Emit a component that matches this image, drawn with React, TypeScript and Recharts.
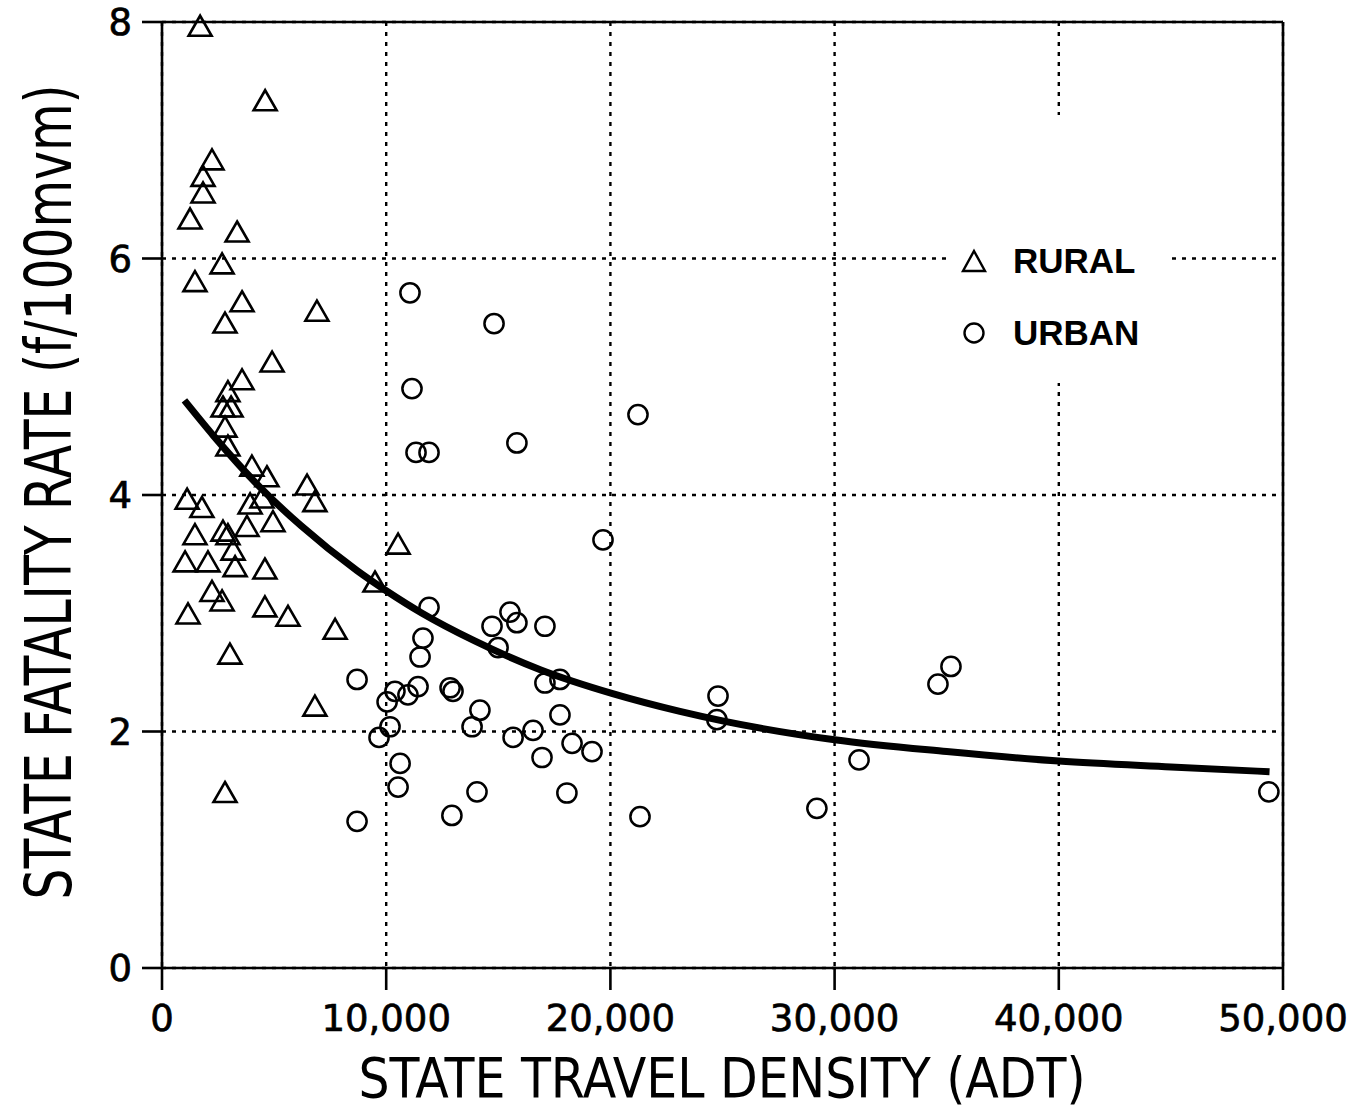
import React from 'react';
import {
  ComposedChart,
  XAxis,
  YAxis,
  CartesianGrid,
  Scatter,
  Line,
  ReferenceLine,
  Legend,
} from 'recharts';

// ---- data ----
const xTicks = [0, 10000, 20000, 30000, 40000, 50000];
const yTicks = [0, 2, 4, 6, 8];

const seriesNames = ['RURAL', 'URBAN'];
const xTitle = 'STATE TRAVEL DENSITY (ADT)';
const yTitle = 'STATE FATALITY RATE (f/100mvm)';

const ruralX = [
  1700, 4600, 2230, 1830, 1830, 1250, 3350, 2680, 1470, 3570, 6910, 2810, 4910, 3570, 2940, 2720,
  3080, 2810, 2940, 4010, 4680, 6470, 6820, 1120, 1780, 3930, 4460, 4950, 1470, 2720, 2940, 3790,
  3170, 1030, 2050, 3260, 4590, 2230, 2680, 1160, 4590, 5620, 7720, 3030, 6820, 2810, 9500, 10530,
];
const ruralY = [
  7.96, 7.33, 6.83, 6.69, 6.55, 6.33, 6.22, 5.95, 5.8, 5.63, 5.55, 5.45, 5.12, 4.97, 4.87, 4.74,
  4.74, 4.57, 4.41, 4.24, 4.15, 4.08, 3.94, 3.96, 3.89, 3.92, 3.97, 3.77, 3.66, 3.69, 3.66, 3.73,
  3.53, 3.43, 3.43, 3.39, 3.37, 3.18, 3.1, 2.99, 3.05, 2.97, 2.86, 2.65, 2.21, 1.48, 3.26, 3.58,
];

const urbanX = [
  11060, 14810, 11150, 11330, 11910, 15830, 21230, 19670, 11910, 14720, 15520, 15830, 17080, 11640,
  11510, 14990, 17080, 17750, 8700, 11420, 12850, 12980, 10390, 10970, 10040, 14180, 13830, 10170,
  9680, 15660, 16550, 17750, 18290, 19180, 16950, 10620, 10530, 14050, 18060, 8700, 12930, 21320,
  24800, 24750, 34610, 35190, 31090, 29210, 49370,
];
const urbanY = [
  5.71, 5.45, 4.9, 4.36, 4.36, 4.44, 4.68, 3.62, 3.05, 2.89, 3.01, 2.92, 2.89, 2.79, 2.63, 2.71,
  2.41, 2.44, 2.44, 2.38, 2.37, 2.34, 2.34, 2.31, 2.25, 2.18, 2.04, 2.04, 1.95, 1.95, 2.01, 2.14,
  1.9, 1.83, 1.78, 1.73, 1.53, 1.49, 1.48, 1.24, 1.29, 1.28, 2.3, 2.1, 2.4, 2.55, 1.76, 1.35, 1.49,
];

const curveX = [
  1000, 2300, 4400, 6200, 8700, 10000, 11600, 13900, 16900, 20100, 23100, 25000, 30000, 35000,
  40000, 45000, 49400,
];
const curveY = [
  4.8, 4.5, 4.06, 3.74, 3.36, 3.19, 3.0, 2.77, 2.52, 2.32, 2.17, 2.09, 1.93, 1.83, 1.75, 1.7, 1.66,
];

const rural = ruralX.map((x, i) => ({ x, y: ruralY[i] }));
const urban = urbanX.map((x, i) => ({ x, y: urbanY[i] }));
const curve = curveX.map((x, i) => ({ x, y: curveY[i] }));

// ---- styles ----
const INK = '#000';
const tickFont = "'DejaVu Sans', 'Liberation Sans', sans-serif";
const legendFont = "'Liberation Sans', Arial, sans-serif";
const titleFont = "'Liberation Sans Narrow', 'DejaVu Sans Condensed', 'Liberation Sans', sans-serif";

const Triangle = (props: any) => {
  const { cx, cy } = props;
  if (cx == null || cy == null) return null;
  return (
    <path
      d={`M${cx},${cy - 11}L${cx + 11.5},${cy + 9}L${cx - 11.5},${cy + 9}Z`}
      fill="none"
      stroke={INK}
      strokeWidth={2.6}
    />
  );
};

const Ring = (props: any) => {
  const { cx, cy } = props;
  if (cx == null || cy == null) return null;
  return <circle cx={cx} cy={cy} r={9.6} fill="none" stroke={INK} strokeWidth={2.5} />;
};

const LegendBox = () => (
  <svg width={222} height={268} style={{ display: 'block' }}>
    <path d="M24,136L35,156L13,156Z" fill="none" stroke={INK} strokeWidth={2.4} />
    <text x={63} y={158} fontFamily={legendFont} fontWeight={700} fontSize={35} fill={INK}>
      {seriesNames[0]}
    </text>
    <circle cx={24} cy={218} r={9.5} fill="none" stroke={INK} strokeWidth={2.4} />
    <text x={63} y={230} fontFamily={legendFont} fontWeight={700} fontSize={35} fill={INK}>
      {seriesNames[1]}
    </text>
  </svg>
);

const XTitle = () => (
  <text
    x={722}
    y={1097}
    textAnchor="middle"
    fontFamily={titleFont}
    fontSize={56}
    fill={INK}
    textLength={727}
    lengthAdjust="spacingAndGlyphs"
  >
    {xTitle}
  </text>
);

const Y_SQUEEZE = 0.8;
const YTitle = () => (
  <g transform={`translate(71, 492) rotate(-90) scale(${Y_SQUEEZE}, 1)`}>
    <text
      x={0}
      y={0}
      textAnchor="middle"
      fontFamily={titleFont}
      fontSize={64}
      fill={INK}
      textLength={815 / Y_SQUEEZE}
      lengthAdjust="spacingAndGlyphs"
    >
      {yTitle}
    </text>
  </g>
);

const fmt = (v: number) => v.toLocaleString('en-US');

const tickStyle = {
  fontSize: 37,
  fontFamily: tickFont,
  fill: INK,
  stroke: INK,
  strokeWidth: 0.7,
};

export default function App() {
  return (
    <div style={{ position: 'absolute', left: 0, top: 0, background: '#fff' }}>
      <ComposedChart
        width={1360}
        height={1118}
        margin={{ top: 22, right: 77, bottom: 20, left: 82 }}
      >
        <CartesianGrid stroke={INK} strokeWidth={2.4} strokeDasharray="4 6" />
        <XAxis
          dataKey="x"
          type="number"
          domain={[0, 50000]}
          ticks={xTicks}
          interval={0}
          tickFormatter={fmt}
          tickSize={22}
          tickMargin={15}
          height={130}
          axisLine={{ stroke: INK, strokeWidth: 2.6 }}
          tickLine={{ stroke: INK, strokeWidth: 2.6 }}
          tick={tickStyle}
          label={() => <XTitle />}
        />
        <YAxis
          dataKey="y"
          type="number"
          domain={[0, 8]}
          ticks={yTicks}
          interval={0}
          tickSize={20}
          tickMargin={10}
          width={80}
          axisLine={{ stroke: INK, strokeWidth: 2.6 }}
          tickLine={{ stroke: INK, strokeWidth: 2.6 }}
          tick={tickStyle}
          label={() => <YTitle />}
        />
        <ReferenceLine y={8} stroke={INK} strokeWidth={2.6} />
        <ReferenceLine x={50000} stroke={INK} strokeWidth={2.6} />
        <Scatter
          name={seriesNames[0]}
          data={rural}
          dataKey="y"
          shape={<Triangle />}
          isAnimationActive={false}
        />
        <Scatter
          name={seriesNames[1]}
          data={urban}
          dataKey="y"
          shape={<Ring />}
          isAnimationActive={false}
        />
        <Line
          data={curve}
          dataKey="y"
          type="monotone"
          stroke={INK}
          strokeWidth={7}
          dot={false}
          activeDot={false}
          legendType="none"
          isAnimationActive={false}
        />
        <Legend
          layout="horizontal"
          verticalAlign="middle"
          align="center"
          wrapperStyle={{
            position: 'absolute',
            left: 950,
            top: 115,
            width: 222,
            height: 268,
            background: '#fff',
            margin: 0,
            padding: 0,
          }}
          content={() => <LegendBox />}
        />
      </ComposedChart>
    </div>
  );
}
